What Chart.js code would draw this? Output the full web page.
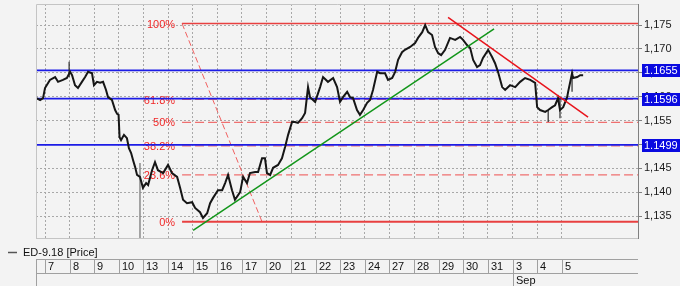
<!DOCTYPE html>
<html>
<head>
<meta charset="utf-8">
<script src="https://cdn.jsdelivr.net/npm/chart.js@4.4.0/dist/chart.umd.min.js"></script>
<style>
  html, body { margin: 0; padding: 0; background: #f3f3f3; }
  #chart { display: block; }
</style>
</head>
<body>
<canvas id="chart" width="680" height="286"></canvas>
<script>
// time axis: 0 = start of Aug 7, one unit per trading day
const dayLabels = ['7', '8', '9', '10', '13', '14', '15', '16', '17', '20', '21', '22', '23', '24', '27', '28', '29', '30', '31', '3', '4', '5'];
const monthLabel = 'Sep';
const monthIndex = 19;
const priceTicks = [1.135, 1.140, 1.145, 1.150, 1.155, 1.160, 1.165, 1.170, 1.175];

// ED-9.18 price path
const barTime = [-0.36, -0.20, -0.08, 0.00, 0.20, 0.41, 0.53, 0.73, 0.89, 1.02, 1.10, 1.22, 1.34, 1.50, 1.63, 1.75, 1.91, 1.99, 2.11, 2.24,
  2.36, 2.48, 2.56, 2.72, 2.85, 2.93, 2.99, 3.03, 3.09, 3.21, 3.33, 3.41, 3.50, 3.58, 3.66, 3.74, 3.86, 3.98, 4.11, 4.19,
  4.35, 4.47, 4.59, 4.80, 5.00, 5.16, 5.37, 5.49, 5.61, 5.77, 5.98, 6.10, 6.30, 6.42, 6.59, 6.71, 6.83, 7.03, 7.20, 7.32,
  7.44, 7.60, 7.72, 7.93, 8.05, 8.21, 8.33, 8.54, 8.66, 8.82, 8.94, 9.02, 9.15, 9.27, 9.47, 9.63, 9.76, 9.88, 10.04, 10.16,
  10.28, 10.45, 10.57, 10.69, 10.77, 10.98, 11.18, 11.30, 11.50, 11.71, 11.87, 11.99, 12.11, 12.28, 12.40, 12.52, 12.68, 12.80, 12.93, 13.09,
  13.21, 13.33, 13.50, 13.62, 13.82, 13.94, 14.11, 14.23, 14.35, 14.51, 14.63, 14.84, 15.04, 15.16, 15.33, 15.45, 15.57, 15.73, 15.85, 15.98,
  16.10, 16.26, 16.46, 16.67, 16.87, 16.99, 17.15, 17.28, 17.40, 17.56, 17.68, 17.80, 18.01, 18.17, 18.29, 18.41, 18.58, 18.70, 18.90, 19.11,
  19.31, 19.51, 19.72, 19.92, 20.00, 20.12, 20.33, 20.45, 20.61, 20.73, 20.85, 20.93, 21.06, 21.22, 21.26, 21.42, 21.46, 21.63, 21.75, 21.87];
const closePrice = [1.1597, 1.1593, 1.1597, 1.1618, 1.1635, 1.1641, 1.1631, 1.1635, 1.1639, 1.1652, 1.1645, 1.1624, 1.1618, 1.1631, 1.1641, 1.1652, 1.1649, 1.1624, 1.1631, 1.1629,
  1.1631, 1.1614, 1.1599, 1.1593, 1.1572, 1.1564, 1.1562, 1.1515, 1.1509, 1.1520, 1.1513, 1.1492, 1.1482, 1.1467, 1.1453, 1.1436, 1.1432, 1.1409, 1.1419, 1.1415,
  1.1446, 1.1463, 1.1446, 1.1440, 1.1457, 1.1440, 1.1432, 1.1409, 1.1384, 1.1377, 1.1379, 1.1367, 1.1358, 1.1346, 1.1356, 1.1377, 1.1388, 1.1404, 1.1404, 1.1419,
  1.1436, 1.1404, 1.1384, 1.1400, 1.1432, 1.1419, 1.1440, 1.1442, 1.1442, 1.1471, 1.1471, 1.1440, 1.1436, 1.1451, 1.1457, 1.1471, 1.1495, 1.1520, 1.1547, 1.1547,
  1.1545, 1.1555, 1.1566, 1.1620, 1.1599, 1.1589, 1.1620, 1.1641, 1.1631, 1.1639, 1.1620, 1.1589, 1.1599, 1.1610, 1.1599, 1.1597, 1.1572, 1.1562, 1.1572, 1.1587,
  1.1593, 1.1614, 1.1652, 1.1649, 1.1649, 1.1635, 1.1639, 1.1652, 1.1677, 1.1693, 1.1698, 1.1704, 1.1712, 1.1723, 1.1735, 1.1750, 1.1735, 1.1729, 1.1704, 1.1691,
  1.1687, 1.1698, 1.1723, 1.1719, 1.1725, 1.1719, 1.1708, 1.1702, 1.1677, 1.1662, 1.1666, 1.1681, 1.1698, 1.1683, 1.1670, 1.1652, 1.1620, 1.1614, 1.1624, 1.1620,
  1.1631, 1.1639, 1.1635, 1.1629, 1.1578, 1.1572, 1.1568, 1.1572, 1.1578, 1.1582, 1.1597, 1.1572, 1.1578, 1.1599, 1.1610, 1.1649, 1.1639, 1.1641, 1.1645, 1.1645];

// single long wicks: [time, low, high]
const wicks = [[0.98, 1.1641, 1.1673], [20.45, 1.1547, 1.1572], [20.93, 1.1555, 1.1597], [21.42, 1.1610, 1.1652]];
const badTick = [3.86, 1.1270, 1.1461];

// drawing tools
const blueLevels = [1.1655, 1.1596, 1.1499];
const fibLevels = [1.1753, 1.1594, 1.1546, 1.1497, 1.1436, 1.1338];
const fibLabels = ['100%', '61.8%', '50%', '38.2%', '23.6%', '0%'];
const fibStart = 5.57;
const fibAnchorTime = [5.57, 8.82];
const fibAnchorPrice = [1.1753, 1.1338];
const greenTime = [6.02, 18.25];
const greenPrice = [1.1320, 1.1742];
const redTime = [16.38, 22.07];
const redPrice = [1.1766, 1.1557];

const xMin = -0.366, xMax = 24.1;
const yMin = 1.1304, yMax = 1.1794;
const FONT = '"Liberation Sans", Arial, sans-serif';

function seg(xs, ys) {
    return xs.map((x, i) => ({ x: x, y: ys[i] }));
}
function lineSet(data, color, width, dash) {
    return {
        type: 'line', data: data, borderColor: color, borderWidth: width,
        borderDash: dash || [], pointRadius: 0, tension: 0, fill: false
    };
}

const datasets = [];
datasets.push(lineSet(seg(redTime, redPrice), '#e8141c', 1.5));
datasets.push(lineSet(seg(greenTime, greenPrice), '#12961a', 1.5));
datasets.push(lineSet(seg(barTime, closePrice), '#161616', 2));
wicks.forEach(w => datasets.push(lineSet([{ x: w[0], y: w[1] }, { x: w[0], y: w[2] }], '#2a2a2a', 1.2)));
datasets.push(lineSet([{ x: badTick[0], y: badTick[1] }, { x: badTick[0], y: badTick[2] }], '#8a8a8a', 1.5));
blueLevels.forEach(v => datasets.push(lineSet([{ x: xMin, y: v }, { x: xMax, y: v }], '#1c1ce6', 1.8)));
fibLevels.forEach((v, i) => {
    const solid = i === 0 || i === fibLevels.length - 1;
    datasets.push(lineSet([{ x: fibStart, y: v }, { x: xMax, y: v }],
        solid ? '#e84040' : '#f07070', solid ? (i === 0 ? 1.5 : 2.2) : 1.2, solid ? [] : [9, 4]));
});
datasets.push(lineSet(seg(fibAnchorTime, fibAnchorPrice), '#f06060', 1, [6, 3]));

// labels, axis boxes, frame and the date panel
const overlay = {
    id: 'overlay',
    beforeDatasetsDraw(chart) {
        const { ctx, scales: { x, y } } = chart;
        ctx.save();
        ctx.font = '11px ' + FONT;
        ctx.fillStyle = '#f02828';
        ctx.textAlign = 'right';
        ctx.textBaseline = 'middle';
        const lx = x.getPixelForValue(fibStart) - 7;
        fibLevels.forEach((v, i) => ctx.fillText(fibLabels[i], lx, y.getPixelForValue(v) + 1));
        ctx.restore();
    },
    afterDraw(chart) {
        const { ctx, chartArea: a, scales: { x, y } } = chart;
        ctx.save();
        // frame
        ctx.strokeStyle = '#c4c4c4';
        ctx.lineWidth = 1;
        ctx.beginPath();
        ctx.moveTo(a.left + 0.5, a.bottom + 0.5);
        ctx.lineTo(a.left + 0.5, a.top + 0.5);
        ctx.lineTo(a.right, a.top + 0.5);
        ctx.moveTo(a.left, a.bottom + 0.5);
        ctx.lineTo(a.right, a.bottom + 0.5);
        ctx.stroke();

        // price boxes on the right axis
        ctx.font = '11px ' + FONT;
        ctx.textBaseline = 'middle';
        ctx.textAlign = 'left';
        blueLevels.forEach(v => {
            const py = Math.round(y.getPixelForValue(v));
            ctx.fillStyle = '#0a0ae0';
            ctx.fillRect(a.right + 4, py - 6, 680 - a.right - 4, 13);
            ctx.fillStyle = '#ffffff';
            ctx.fillText(v.toFixed(4), a.right + 6, py + 1);
        });

        // legend
        ctx.strokeStyle = '#555';
        ctx.lineWidth = 1.5;
        ctx.beginPath();
        ctx.moveTo(8, 252.5);
        ctx.lineTo(17, 252.5);
        ctx.stroke();
        ctx.fillStyle = '#111';
        ctx.fillText('ED-9.18 [Price]', 23, 253);

        // date panel
        const top = 259.5, mid = 273.5;
        ctx.strokeStyle = '#a0a0a0';
        ctx.lineWidth = 1;
        ctx.beginPath();
        ctx.moveTo(a.left, top); ctx.lineTo(a.right, top);
        ctx.moveTo(a.left, mid); ctx.lineTo(a.right, mid);
        ctx.moveTo(a.left + 0.5, top); ctx.lineTo(a.left + 0.5, 286);
        dayLabels.forEach((d, i) => {
            const px = Math.round(x.getPixelForValue(i)) + 0.5;
            ctx.moveTo(px, top);
            ctx.lineTo(px, i === monthIndex ? 286 : mid);
        });
        ctx.stroke();
        ctx.fillStyle = '#111';
        dayLabels.forEach((d, i) => {
            ctx.fillText(d, Math.round(x.getPixelForValue(i)) + 3, 267);
        });
        ctx.fillText(monthLabel, Math.round(x.getPixelForValue(monthIndex)) + 3, 280.5);
        ctx.restore();
    }
};

new Chart(document.getElementById('chart'), {
    type: 'line',
    data: { datasets: datasets },
    plugins: [overlay],
    options: {
        responsive: false,
        animation: false,
        layout: { padding: { left: 36, top: 4, right: 0, bottom: 0 } },
        plugins: { legend: { display: false }, tooltip: { enabled: false } },
        scales: {
            x: {
                type: 'linear', min: xMin, max: xMax, offset: false,
                afterBuildTicks: s => { s.ticks = dayLabels.map((d, i) => ({ value: i })); },
                afterFit: s => { s.height = 48; s.paddingLeft = 0; s.paddingRight = 0; },
                ticks: { display: false },
                grid: { color: '#a8a8a8', drawTicks: false, offset: false },
                border: { display: false, dash: [2, 2] }
            },
            y: {
                type: 'linear', position: 'right', min: yMin, max: yMax, beginAtZero: false,
                afterBuildTicks: s => { s.ticks = priceTicks.map(v => ({ value: v })); },
                afterFit: s => { s.width = 42; s.paddingTop = 0; s.paddingBottom = 0; },
                ticks: {
                    padding: 2, color: '#1a1a1a', font: { family: FONT, size: 11 },
                    callback: v => v.toFixed(3).replace('.', ',')
                },
                grid: { color: '#a8a8a8', tickColor: '#808080', tickLength: 4 },
                border: { display: true, color: '#808080', dash: [2, 2] }
            }
        }
    }
});
</script>
</body>
</html>
